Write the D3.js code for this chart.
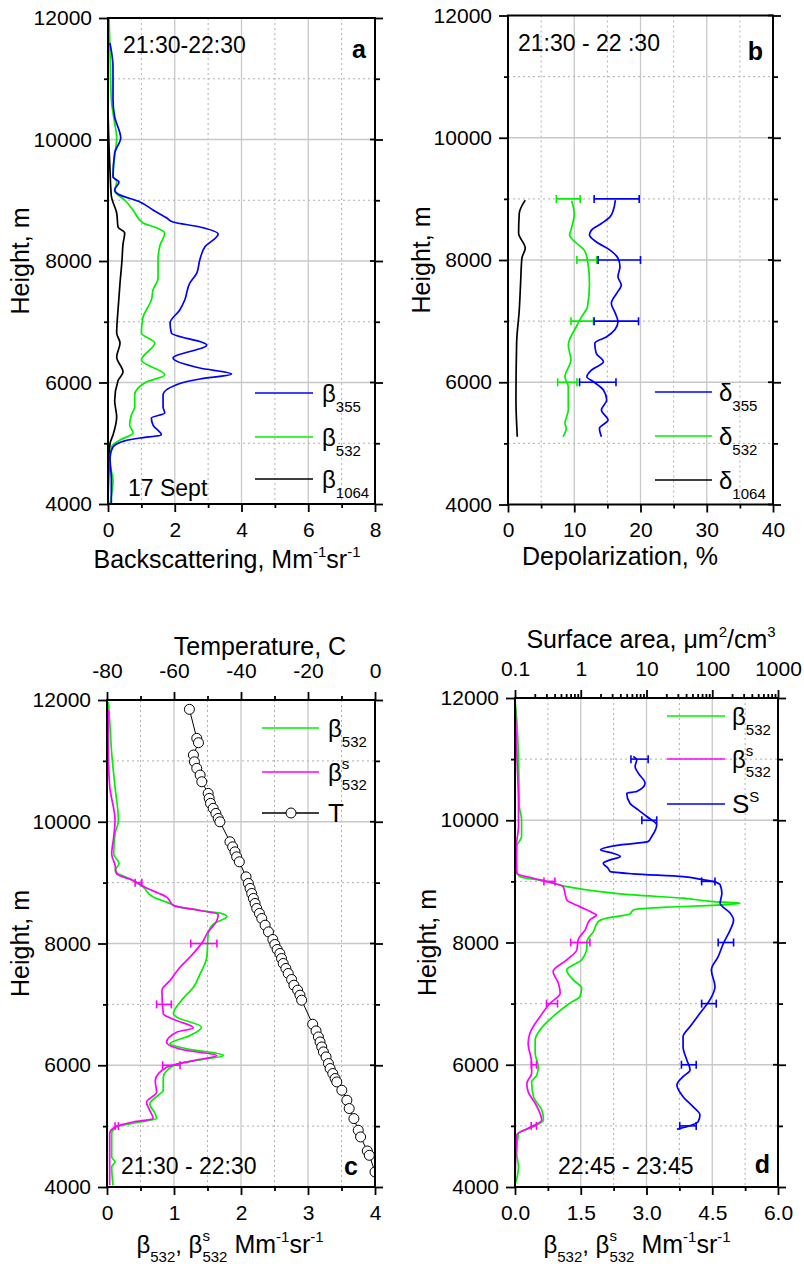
<!DOCTYPE html>
<html>
<head>
<meta charset="utf-8">
<script src="https://cdn.jsdelivr.net/npm/d3@7"></script>
<style>
  body { margin: 0; background: #fff; }
  svg { display: block; font-family: 'Liberation Sans', Arial, sans-serif; }
  svg text { white-space: pre; }
</style>
</head>
<body>
<svg id="chart" width="804" height="1276"></svg>
<script>
const BLUE = '#0000ff'
const GREEN = '#00f000'
const MAGENTA = '#ff00ff'
const BLACK = '#000000'

// height axis, shared by all panels
const heightTicks = [4000, 6000, 8000, 10000, 12000]
const heightMinor = [5000, 7000, 9000, 11000]

// panel a: backscattering [Mm-1 sr-1, height m]
const aTicks = [0, 2, 4, 6, 8]
const aMinor = [1, 3, 5, 7]
const aBeta355 = [[0.1, 4000], [0.1, 4395], [0.06, 4774], [0.15, 4938], [0.5, 5040], [0.96, 5086], [1.6, 5136], [1.35, 5300], [1.3, 5416], [1.7, 5498], [1.65, 5597], [1.65, 5794], [2.2, 5992], [2.75, 6058], [3.7, 6140], [2.75, 6238], [1.95, 6403], [2.96, 6617], [1.9, 6815], [1.86, 6980], [2.15, 7193], [2.3, 7358], [2.45, 7637], [2.66, 7802], [2.75, 8016], [2.9, 8230], [3.3, 8444], [2.75, 8560], [1.95, 8642], [1.76, 8708], [1.35, 8840], [0.96, 8971], [0.3, 9103], [0.2, 9169], [0.33, 9300], [0.15, 9383], [0.2, 9778], [0.38, 10025], [0.2, 10370], [0.15, 10650], [0.15, 11193], [0.06, 11588]]
const aBeta532 = [[0.06, 4000], [0.15, 4395], [0.06, 4664], [0.1, 4938], [0.36, 5053], [0.75, 5169], [0.65, 5300], [0.7, 5465], [0.8, 5597], [0.8, 5794], [1.15, 6008], [1.7, 6123], [1.0, 6370], [1.4, 6650], [1.0, 6815], [1.05, 7078], [1.2, 7243], [1.3, 7358], [1.35, 7523], [1.5, 7720], [1.5, 8016], [1.56, 8263], [1.7, 8461], [1.46, 8543], [1.05, 8626], [0.75, 8840], [0.5, 9004], [0.2, 9152], [0.26, 9300], [0.15, 9400], [0.2, 9728], [0.26, 10025], [0.2, 10271], [0.1, 10650], [0.06, 11473], [0.03, 12000]]
const aBeta1064 = [[0, 4000], [0.06, 4990], [0.15, 5136], [0.26, 5432], [0.2, 5700], [0.3, 6030], [0.45, 6173], [0.26, 6420], [0.36, 6650], [0.26, 6815], [0.3, 7193], [0.36, 7637], [0.42, 8016], [0.45, 8280], [0.5, 8461], [0.3, 8560], [0.26, 8790], [0.1, 9070], [0.06, 9500], [0, 10650], [0, 12000]]

// panel b: depolarization [%, height m]
const bTicks = [0, 10, 20, 30, 40]
const bMinor = [5, 15, 25, 35]
const bDelta355 = [[14.1, 5109], [13.8, 5246], [15.1, 5382], [14.1, 5545], [14.9, 5709], [14.4, 5872], [12.9, 6008], [11.9, 6090], [12.6, 6200], [14.4, 6335], [13.3, 6477], [13.1, 6640], [14.9, 6744], [16.6, 6990], [16.2, 7127], [15.6, 7290], [16.4, 7454], [17.1, 7590], [16.6, 7725], [16.9, 7889], [16.6, 8030], [15.4, 8162], [13.3, 8298], [12.3, 8407], [12.6, 8489], [14.1, 8597], [15.4, 8706], [15.9, 8816], [16.2, 8979]]
const bDelta532 = [[8.3, 5109], [8.8, 5246], [8.6, 5327], [9.1, 5545], [9.1, 5926], [8.6, 6090], [9.5, 6363], [9.1, 6608], [10.3, 6908], [11.1, 7070], [12.0, 7235], [12.3, 7617], [12.0, 7998], [11.5, 8162], [10.1, 8298], [9.3, 8407], [9.5, 8489], [10.0, 8762], [9.6, 8968]]
const bDelta1064 = [[1.4, 5109], [1.2, 5709], [1.3, 6636], [1.7, 7181], [1.9, 7617], [2.1, 8030], [2.6, 8194], [1.6, 8440], [1.7, 8762], [2.6, 8979]]
// [height, low, high]
const bErr355 = [[9000, 13.0, 19.8], [8000, 13.6, 20.0], [7000, 13.0, 19.7], [6000, 10.8, 16.3]]
const bErr532 = [[9000, 7.3, 10.9], [8000, 10.4, 13.4], [7000, 9.5, 12.9], [6000, 7.5, 10.4]]

// panel c: beta 532 and temperature
const cTicks = [0, 1, 2, 3, 4]
const cMinor = [0.5, 1.5, 2.5, 3.5]
const tempTicks = [-80, -60, -40, -20, 0]
const tempMinor = [-70, -50, -30, -10]
const cBeta532 = [[0.09, 4027], [0.07, 4329], [0.12, 4411], [0.07, 4493], [0.07, 4877], [0.14, 4986], [0.49, 5068], [0.74, 5124], [0.72, 5200], [0.64, 5364], [0.79, 5529], [0.84, 5584], [0.84, 5803], [1.04, 6022], [1.39, 6088], [1.74, 6160], [1.19, 6270], [0.94, 6352], [1.24, 6488], [1.41, 6625], [1.04, 6790], [0.99, 6844], [1.11, 7063], [1.29, 7282], [1.39, 7501], [1.49, 7775], [1.51, 8159], [1.59, 8323], [1.79, 8444], [1.69, 8498], [1.39, 8542], [1.09, 8597], [0.89, 8679], [0.69, 8762], [0.54, 8926], [0.39, 9036], [0.12, 9200], [0.18, 9315], [0.1, 9470], [0.12, 9800], [0.17, 10022], [0.12, 10570], [0.07, 11126], [0.04, 11660], [0.02, 11972]]
const cBeta532s = [[0.04, 4027], [0.04, 4329], [0.04, 4877], [0.12, 4986], [0.39, 5068], [0.69, 5124], [0.64, 5255], [0.59, 5392], [0.74, 5556], [0.72, 5748], [0.89, 5967], [1.29, 6077], [1.64, 6160], [1.19, 6242], [0.89, 6379], [1.04, 6543], [1.29, 6614], [1.04, 6735], [0.84, 6844], [0.82, 7227], [0.94, 7391], [1.09, 7610], [1.26, 7802], [1.44, 8049], [1.49, 8159], [1.64, 8378], [1.66, 8477], [1.39, 8542], [0.99, 8625], [0.89, 8762], [0.59, 8910], [0.39, 9036], [0.14, 9150], [0.12, 9290], [0.07, 9470], [0.1, 9750], [0.12, 10022], [0.04, 10580], [0.02, 11126], [0.02, 11835]]
const cErr532s = [[9000, 0.42, 0.52], [8000, 1.25, 1.64], [7000, 0.74, 0.96], [6000, 0.83, 1.09], [5000, 0.12, 0.17]]
// [temperature C, height m]
const cTemp = [[-55.4, 11847], [-53.2, 11370], [-52.7, 11298], [-54.2, 11096], [-53.9, 10985], [-53.2, 10877], [-52.2, 10767], [-51.7, 10657], [-49.8, 10466], [-49.5, 10384], [-49.1, 10302], [-48.3, 10220], [-47.5, 10137], [-46.8, 10055], [-46.3, 9999], [-43.3, 9671], [-42.5, 9588], [-41.8, 9506], [-41.3, 9424], [-40.5, 9342], [-38.5, 9095], [-37.8, 8987], [-37.3, 8905], [-36.8, 8822], [-36.3, 8740], [-35.8, 8658], [-35.3, 8576], [-34.5, 8494], [-33.8, 8411], [-32.8, 8301], [-31.8, 8191], [-30.5, 8066], [-29.9, 7984], [-29.2, 7902], [-28.4, 7836], [-27.9, 7754], [-27.4, 7672], [-26.6, 7590], [-25.9, 7508], [-24.9, 7409], [-24.2, 7315], [-23.1, 7233], [-22.4, 7151], [-21.9, 7069], [-18.6, 6674], [-17.6, 6564], [-16.9, 6465], [-16.4, 6383], [-15.9, 6301], [-15.4, 6219], [-14.6, 6137], [-13.9, 6028], [-13.4, 5946], [-12.6, 5864], [-11.9, 5782], [-11.4, 5726], [-9.9, 5589], [-8.4, 5425], [-7.7, 5289], [-6.3, 5124], [-5.0, 4932], [-4.3, 4822], [-2.3, 4592], [-1.7, 4521], [0, 4247]]

// panel d: beta 532 and surface area
const dTicks = [0, 1.5, 3, 4.5, 6]
const dMinor = [0.75, 2.25, 3.75, 5.25]
const surfaceTicks = [0.1, 1, 10, 100, 1000]
const dBeta532 = [[0, 4027], [0.08, 4331], [0.04, 4550], [0.08, 4879], [0.42, 4987], [0.65, 5097], [0.61, 5260], [0.42, 5478], [0.38, 5723], [0.5, 5833], [0.53, 5969], [0.46, 6188], [0.46, 6406], [0.57, 6570], [0.91, 6815], [1.25, 7006], [1.48, 7115], [1.52, 7252], [1.33, 7388], [1.18, 7552], [1.33, 7633], [1.52, 7715], [1.64, 7933], [1.64, 8015], [1.79, 8178], [1.9, 8342], [2.09, 8398], [2.62, 8468], [2.7, 8533], [3.46, 8578], [4.6, 8610], [5.13, 8643], [4.52, 8670], [3.84, 8725], [2.7, 8779], [1.94, 8833], [1.18, 8915], [0.65, 9013], [0.11, 9078], [0.03, 9188], [0.04, 9570], [0.15, 9734], [0.15, 10007], [0.1, 10224], [0.08, 10988], [0.04, 11643], [0, 11971]]
const dBeta532s = [[0, 4027], [0.04, 4851], [0.3, 4960], [0.61, 5097], [0.57, 5206], [0.46, 5370], [0.3, 5560], [0.27, 5697], [0.38, 5860], [0.38, 6024], [0.3, 6352], [0.34, 6515], [0.57, 6787], [0.8, 7006], [1.03, 7170], [0.99, 7334], [0.87, 7524], [1.18, 7715], [1.41, 7879], [1.44, 8043], [1.6, 8206], [1.71, 8370], [1.86, 8452], [1.79, 8479], [1.48, 8587], [1.18, 8697], [1.14, 8806], [1.1, 8915], [0.72, 8997], [0.42, 9052], [0.04, 9134], [0.03, 9570], [0.08, 9900], [0.08, 10224], [0.04, 11100], [0, 11971]]
const dErr532s = [[9000, 0.66, 0.91], [8000, 1.27, 1.71], [7000, 0.72, 0.97], [6000, 0.37, 0.49], [5000, 0.37, 0.49]]
// [surface area um2/cm3, height m]
const dSurface = [[29, 4944], [41, 4987], [61, 5069], [65, 5178], [51, 5314], [36, 5478], [29, 5669], [36, 5805], [46, 5915], [41, 6079], [36, 6296], [36, 6460], [46, 6624], [65, 6843], [92, 7061], [110, 7278], [97, 7552], [123, 7769], [148, 7988], [188, 8206], [211, 8370], [188, 8479], [132, 8643], [140, 8806], [132, 8942], [105, 8997], [65, 9036], [36, 9079], [6.3, 9123], [2.8, 9161], [2.6, 9215], [2.2, 9297], [2.8, 9352], [4.0, 9407], [3.1, 9461], [2.0, 9516], [4.0, 9597], [10.6, 9652], [12.0, 9734], [14.3, 9924], [10.1, 10061], [7.5, 10170], [5.6, 10279], [5.0, 10443], [7.1, 10470], [9.5, 10606], [7.5, 10770], [6.7, 10879], [7.1, 10988], [6.3, 11043]]
const dErrSurface = [[11000, 5.8, 10.6], [10000, 8.5, 14.3], [9000, 69, 110], [8000, 123, 211], [7000, 69, 115], [6000, 34, 57], [5000, 32, 57]]

const svg = d3.select('#chart')

// text made of runs; a run with stack: true starts where the previous one started
function richText (parent, x, y, parts, anchor) {
  const t = parent.append('g')
  let cx = 0
  let prevStart = 0
  let prevW = 0
  parts.forEach(p => {
    const start = p.stack ? prevStart : cx
    const el = t.append('text')
      .attr('x', start)
      .attr('y', p.dy || 0)
      .attr('font-size', p.size)
      .text(p.t)
    const w = el.node().getComputedTextLength()
    cx = p.stack ? start + Math.max(prevW, w) : start + w
    prevStart = start
    prevW = w
  })
  const shift = anchor === 'middle' ? -cx / 2 : anchor === 'end' ? -cx : 0
  t.attr('transform', `translate(${x + shift},${y})`)
  return t
}

function sub (name, num) {
  return [{ t: name, size: 24 }, { t: num, size: 15, dy: 10 }]
}

function panel (p) {
  const box = p.box
  const x = d3.scaleLinear().domain(p.xDomain).range([box.left, box.right])
  const y = d3.scaleLinear().domain([4000, 12000]).range([box.bottom, box.top])
  const g = svg.append('g')

  svg.append('clipPath').attr('id', 'clip-' + p.name)
    .append('rect')
    .attr('x', box.left).attr('y', box.top)
    .attr('width', box.right - box.left).attr('height', box.bottom - box.top)

  // grid
  const grid = g.append('g')
  const inner = p.xTicks.filter(d => d !== p.xDomain[0] && d !== p.xDomain[1])
  grid.selectAll('line.vminor').data(p.xMinor).join('line')
    .attr('x1', d => x(d)).attr('x2', d => x(d))
    .attr('y1', box.top).attr('y2', box.bottom)
    .attr('stroke', '#b0b0b0').attr('stroke-dasharray', '2,3')
  grid.selectAll('line.vmajor').data(inner).join('line')
    .attr('x1', d => x(d)).attr('x2', d => x(d))
    .attr('y1', box.top).attr('y2', box.bottom)
    .attr('stroke', '#c8c8c8').attr('stroke-width', 1.3)
  grid.selectAll('line.hminor').data(heightMinor).join('line')
    .attr('y1', d => y(d)).attr('y2', d => y(d))
    .attr('x1', box.left).attr('x2', box.right)
    .attr('stroke', '#b0b0b0').attr('stroke-dasharray', '2,3')
  grid.selectAll('line.hmajor').data(heightTicks.slice(1, -1)).join('line')
    .attr('y1', d => y(d)).attr('y2', d => y(d))
    .attr('x1', box.left).attr('x2', box.right)
    .attr('stroke', '#c8c8c8').attr('stroke-width', 1.3)

  // axes
  const ax = g.append('g')
  ax.append('g').attr('transform', `translate(0,${box.bottom})`)
    .call(d3.axisBottom(x).tickValues(p.xTicks).tickSize(8).tickPadding(10).tickFormat(p.xFormat))
  ax.append('g').attr('transform', `translate(0,${box.bottom})`)
    .call(d3.axisBottom(x).tickValues(p.xMinor).tickSize(4).tickFormat(''))
  ax.append('g').attr('transform', `translate(${box.left},0)`)
    .call(d3.axisLeft(y).tickValues(heightTicks).tickSize(9).tickPadding(7).tickFormat(d => String(d)))
  ax.append('g').attr('transform', `translate(${box.left},0)`)
    .call(d3.axisLeft(y).tickValues(heightMinor).tickSize(4).tickFormat(''))
  ax.append('g').attr('transform', `translate(${box.right},0)`)
    .call(d3.axisRight(y).tickValues(heightTicks).tickSize(8).tickFormat(''))
  ax.append('g').attr('transform', `translate(${box.right},0)`)
    .call(d3.axisRight(y).tickValues(heightMinor).tickSize(5).tickFormat(''))
  ax.selectAll('line.in').data(heightTicks).join('line')
    .attr('x1', box.right - 5).attr('x2', box.right)
    .attr('y1', d => y(d)).attr('y2', d => y(d))
    .attr('stroke', BLACK).attr('stroke-width', 1.8)
  ax.selectAll('.domain').remove()
  ax.selectAll('g').attr('font-size', null).attr('font-family', null)
  ax.selectAll('text').attr('font-size', 21).attr('fill', BLACK)
  ax.selectAll('.tick line').attr('stroke-width', 1.8)

  const plot = g.append('g').attr('clip-path', `url(#clip-${p.name})`)

  g.append('rect')
    .attr('x', box.left).attr('y', box.top)
    .attr('width', box.right - box.left).attr('height', box.bottom - box.top)
    .attr('fill', 'none').attr('stroke', BLACK).attr('stroke-width', 2)

  // axis titles
  g.append('text')
    .attr('transform', `translate(${p.yTitleX},${(box.top + box.bottom) / 2}) rotate(-90)`)
    .attr('text-anchor', 'middle').attr('font-size', 25)
    .text('Height, m')
  richText(g, p.xTitle.x, p.xTitle.y, p.xTitle.parts, 'middle')

  return { g, plot, x, y, box }
}

function curve (pn, data, color, sx) {
  const xs = sx || pn.x
  pn.plot.append('path')
    .datum(data)
    .attr('fill', 'none')
    .attr('stroke', color)
    .attr('stroke-width', 1.7)
    .attr('stroke-linejoin', 'round')
    .attr('d', d3.line().x(d => xs(d[0])).y(d => pn.y(d[1])).curve(d3.curveMonotoneY))
}

function errorBars (pn, data, color, sx) {
  const xs = sx || pn.x
  const eg = pn.plot.append('g').attr('stroke', color).attr('stroke-width', 1.6)
  eg.selectAll('line.bar').data(data).join('line')
    .attr('x1', d => xs(d[1])).attr('x2', d => xs(d[2]))
    .attr('y1', d => pn.y(d[0])).attr('y2', d => pn.y(d[0]))
  eg.selectAll('line.lo').data(data).join('line')
    .attr('x1', d => xs(d[1])).attr('x2', d => xs(d[1]))
    .attr('y1', d => pn.y(d[0]) - 4).attr('y2', d => pn.y(d[0]) + 4)
  eg.selectAll('line.hi').data(data).join('line')
    .attr('x1', d => xs(d[2])).attr('x2', d => xs(d[2]))
    .attr('y1', d => pn.y(d[0]) - 4).attr('y2', d => pn.y(d[0]) + 4)
}

function legendLine (g, x1, x2, y, color) {
  g.append('line').attr('x1', x1).attr('x2', x2).attr('y1', y).attr('y2', y)
    .attr('stroke', color).attr('stroke-width', 1.7)
}

function topAxis (pn, scale, ticks, minor, fmt) {
  const ax = pn.g.append('g').attr('transform', `translate(0,${pn.box.top})`)
  ax.append('g').call(d3.axisTop(scale).tickValues(ticks).tickSize(8).tickPadding(14).tickFormat(fmt))
  ax.append('g').call(d3.axisTop(scale).tickValues(minor).tickSize(4).tickFormat(''))
  ax.selectAll('.domain').remove()
  ax.selectAll('g').attr('font-size', null).attr('font-family', null)
  ax.selectAll('text').attr('font-size', 21).attr('fill', BLACK)
  ax.selectAll('.tick line').attr('stroke-width', 1.8)
}

const mmTitle = [{ t: 'Mm', size: 25 }, { t: '-1', size: 15, dy: -11 }, { t: 'sr', size: 25 }, { t: '-1', size: 15, dy: -11 }]
const betaTitle = [{ t: 'β', size: 24 }, { t: '532', size: 15, dy: 9 }, { t: ', β', size: 24 },
  { t: 's', size: 15, dy: -12 }, { t: '532', size: 15, dy: 9, stack: true }, { t: ' ', size: 25 }].concat(mmTitle)

// ---- panel a
const pa = panel({
  name: 'a',
  box: { left: 108, right: 375, top: 18, bottom: 504 },
  xDomain: [0, 8], xTicks: aTicks, xMinor: aMinor, xFormat: d => String(d),
  yTitleX: 29,
  xTitle: { x: 227, y: 568, parts: [{ t: 'Backscattering, ', size: 25 }].concat(mmTitle) }
})
curve(pa, aBeta1064, BLACK)
curve(pa, aBeta532, GREEN)
curve(pa, aBeta355, BLUE)
legendLine(pa.g, 255, 313, 393, BLUE)
legendLine(pa.g, 255, 313, 437, GREEN)
legendLine(pa.g, 255, 313, 479, BLACK)
richText(pa.g, 322, 402, sub('β', '355'))
richText(pa.g, 322, 446, sub('β', '532'))
richText(pa.g, 322, 488, sub('β', '1064'))
pa.g.append('text').attr('x', 123).attr('y', 53).attr('font-size', 23).text('21:30-22:30')
pa.g.append('text').attr('x', 366).attr('y', 58).attr('font-size', 25).attr('font-weight', 'bold')
  .attr('text-anchor', 'end').text('a')
pa.g.append('text').attr('x', 128).attr('y', 496).attr('font-size', 23).text('17 Sept')

// ---- panel b
const pb = panel({
  name: 'b',
  box: { left: 508, right: 773, top: 15.5, bottom: 504.5 },
  xDomain: [0, 40], xTicks: bTicks, xMinor: bMinor, xFormat: d => String(d),
  yTitleX: 430,
  xTitle: { x: 620, y: 565, parts: [{ t: 'Depolarization, %', size: 25 }] }
})
curve(pb, bDelta1064, BLACK)
curve(pb, bDelta532, GREEN)
curve(pb, bDelta355, BLUE)
errorBars(pb, bErr532, GREEN)
errorBars(pb, bErr355, BLUE)
legendLine(pb.g, 655, 712, 392, BLUE)
legendLine(pb.g, 655, 712, 436, GREEN)
legendLine(pb.g, 655, 712, 480, BLACK)
richText(pb.g, 719, 401, sub('δ', '355'))
richText(pb.g, 719, 445, sub('δ', '532'))
richText(pb.g, 719, 489, sub('δ', '1064'))
pb.g.append('text').attr('x', 518).attr('y', 51).attr('font-size', 23).text('21:30 - 22 :30')
pb.g.append('text').attr('x', 763).attr('y', 60).attr('font-size', 25).attr('font-weight', 'bold')
  .attr('text-anchor', 'end').text('b')

// ---- panel c
const pc = panel({
  name: 'c',
  box: { left: 107, right: 375, top: 700, bottom: 1187 },
  xDomain: [0, 4], xTicks: cTicks, xMinor: cMinor, xFormat: d => String(d),
  yTitleX: 29,
  xTitle: { x: 230, y: 1253, parts: betaTitle }
})
const tempScale = d3.scaleLinear().domain([-80, 0]).range([pc.box.left, pc.box.right])
topAxis(pc, tempScale, tempTicks, tempMinor, d => String(d))
pc.g.append('text').attr('x', 260).attr('y', 655).attr('font-size', 25)
  .attr('text-anchor', 'middle').text('Temperature, C')
curve(pc, cBeta532, GREEN)
curve(pc, cBeta532s, MAGENTA)
errorBars(pc, cErr532s, MAGENTA)
pc.plot.append('path')
  .datum(cTemp)
  .attr('fill', 'none').attr('stroke', BLACK).attr('stroke-width', 1)
  .attr('d', d3.line().x(d => tempScale(d[0])).y(d => pc.y(d[1])))
pc.plot.selectAll('circle.t').data(cTemp).join('circle')
  .attr('cx', d => tempScale(d[0])).attr('cy', d => pc.y(d[1]))
  .attr('r', 5).attr('fill', '#fff').attr('stroke', BLACK).attr('stroke-width', 1)
legendLine(pc.g, 262, 319, 728, GREEN)
legendLine(pc.g, 262, 319, 772, MAGENTA)
legendLine(pc.g, 262, 319, 813, BLACK)
pc.g.append('circle').attr('cx', 291).attr('cy', 813).attr('r', 5)
  .attr('fill', '#fff').attr('stroke', BLACK)
richText(pc.g, 328, 737, sub('β', '532'))
richText(pc.g, 328, 781, [{ t: 'β', size: 24 }, { t: 's', size: 15, dy: -12 }, { t: '532', size: 15, dy: 9, stack: true }])
pc.g.append('text').attr('x', 328).attr('y', 822).attr('font-size', 26).text('T')
pc.g.append('text').attr('x', 121).attr('y', 1174).attr('font-size', 23).text('21:30 - 22:30')
pc.g.append('text').attr('x', 358).attr('y', 1175).attr('font-size', 25).attr('font-weight', 'bold')
  .attr('text-anchor', 'end').text('c')

// ---- panel d
const pd = panel({
  name: 'd',
  box: { left: 515, right: 778, top: 698, bottom: 1187 },
  xDomain: [0, 6], xTicks: dTicks, xMinor: dMinor, xFormat: d3.format('.1f'),
  yTitleX: 436,
  xTitle: { x: 637, y: 1253, parts: betaTitle }
})
const surfScale = d3.scaleLog().domain([0.1, 1000]).range([pd.box.left, pd.box.right])
const surfMinor = surfScale.ticks().filter(d => surfaceTicks.indexOf(d) === -1)
topAxis(pd, surfScale, surfaceTicks, surfMinor, d => String(d))
richText(pd.g, 651, 648, [{ t: 'Surface area, μm', size: 25 }, { t: '2', size: 15, dy: -11 },
  { t: '/cm', size: 25 }, { t: '3', size: 15, dy: -11 }], 'middle')
curve(pd, dBeta532, GREEN)
curve(pd, dBeta532s, MAGENTA)
curve(pd, dSurface, BLUE, surfScale)
errorBars(pd, dErr532s, MAGENTA)
errorBars(pd, dErrSurface, BLUE, surfScale)
legendLine(pd.g, 667, 725, 716, GREEN)
legendLine(pd.g, 667, 725, 759, MAGENTA)
legendLine(pd.g, 667, 725, 804, BLUE)
richText(pd.g, 732, 725, sub('β', '532'))
richText(pd.g, 732, 768, [{ t: 'β', size: 24 }, { t: 's', size: 15, dy: -12 }, { t: '532', size: 15, dy: 9, stack: true }])
richText(pd.g, 732, 813, [{ t: 'S', size: 26 }, { t: 'S', size: 15, dy: -11 }])
pd.g.append('text').attr('x', 558).attr('y', 1174).attr('font-size', 23).text('22:45 - 23:45')
pd.g.append('text').attr('x', 770).attr('y', 1173).attr('font-size', 25).attr('font-weight', 'bold')
  .attr('text-anchor', 'end').text('d')
</script>
</body>
</html>
